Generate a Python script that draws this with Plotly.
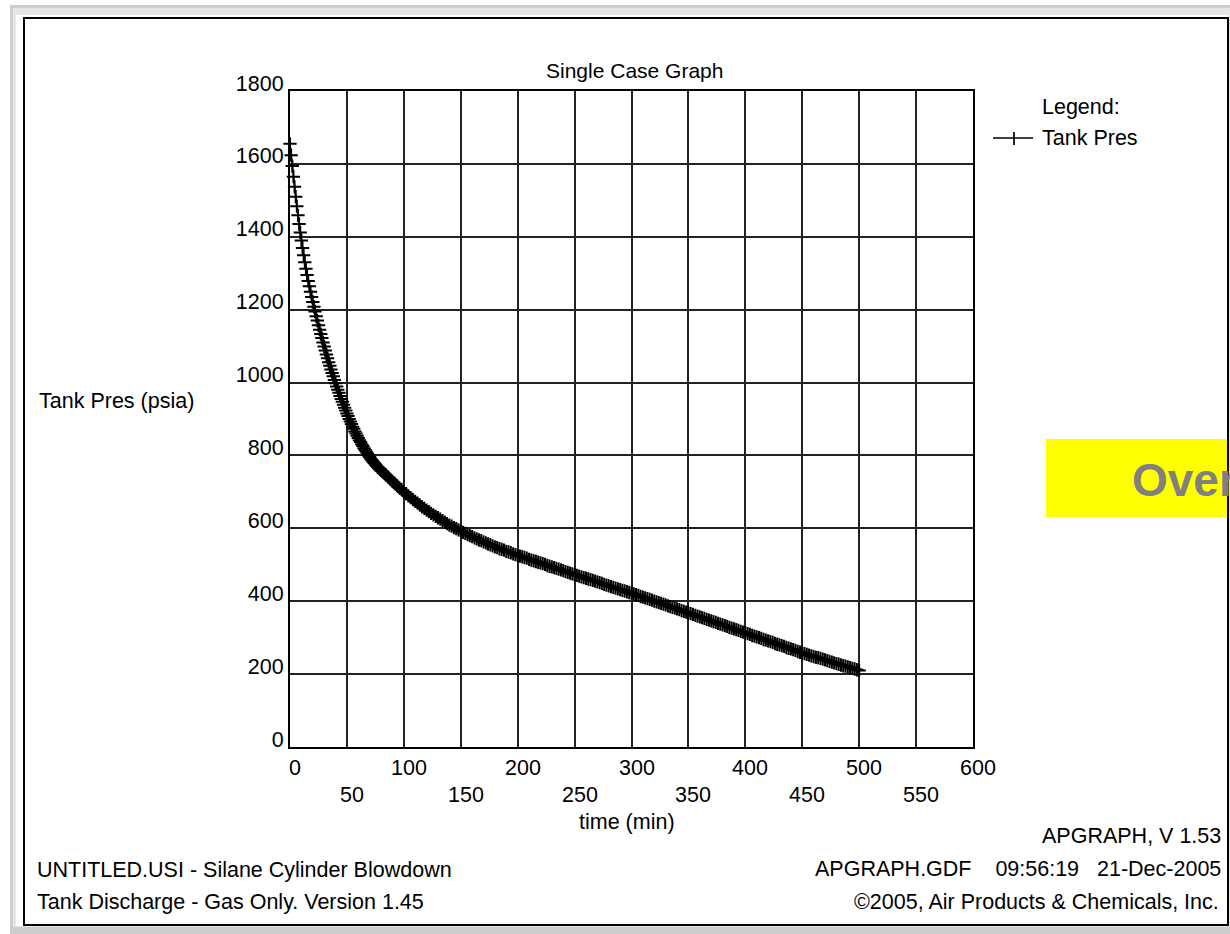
import plotly.graph_objects as go

# ---------------- data ----------------
time_min = list(range(0, 81)) + list(range(82, 501, 2))

tank_pres_psia = [
    1655, 1624, 1594, 1565, 1537, 1510, 1484, 1459, 1435, 1412,
    1390, 1369, 1349, 1330, 1312, 1295, 1279, 1264, 1249, 1235,
    1221, 1208, 1195, 1182, 1170, 1157, 1145, 1133, 1122, 1110,
    1099, 1088, 1077, 1067, 1056, 1046, 1036, 1026, 1017, 1007,
    998, 989, 980, 972, 963, 955, 947, 939, 931, 923,
    915, 908, 900, 893, 886, 879, 873, 866, 860, 854,
    848, 842, 837, 831, 826, 820, 815, 810, 805, 800,
    796, 791, 787, 783, 779, 775, 772, 768, 765, 762,
    759,
    753, 747, 741, 735, 729, 723, 717, 711, 706, 700,
    695, 689, 684, 679, 674, 669, 664, 659, 655, 650, 646, 641, 637,
    633, 629, 625, 621, 617, 613, 609, 606, 602, 599, 596, 593,
    589, 586, 583, 580, 577, 574, 571, 568, 566, 563, 560, 557, 555,
    552, 549, 547, 544, 542, 540, 537, 535, 533, 530, 528, 526,
    524, 522, 520, 518, 515, 513, 511, 509, 507, 505, 503, 501, 498,
    496, 494, 492, 490, 488, 486, 484, 481, 479, 477, 475, 473,
    471, 469, 467, 465, 463, 461, 459, 457, 455, 453, 451, 449, 446,
    444, 442, 440, 438, 436, 434, 432, 430, 428, 426, 424, 422,
    420, 418, 416, 413, 411, 409, 407, 405, 403, 400, 398, 396, 394,
    392, 390, 387, 385, 383, 381, 379, 377, 374, 372, 370, 368,
    366, 364, 361, 359, 357, 355, 353, 350, 348, 346, 344, 342, 339,
    337, 335, 333, 331, 328, 326, 324, 322, 320, 317, 315, 313,
    311, 309, 306, 304, 302, 300, 298, 295, 293, 291, 289, 287, 284,
    282, 280, 278, 276, 273, 271, 269, 267, 265, 262, 260, 258,
    256, 254, 252, 250, 248, 246, 245, 243, 241, 239, 237, 235, 233,
    231, 229, 227, 225, 223, 222, 220, 218, 216, 214, 212, 210,
]

x_tick_vals = list(range(0, 601, 50))
x_tick_text = [str(v) for v in x_tick_vals]
y_tick_vals = list(range(0, 1801, 200))
y_tick_text = [str(v) for v in y_tick_vals]

series_name = "Tank Pres"
chart_title = "Single Case Graph"
y_title = "Tank Pres (psia)"
x_title = "time (min)"
footer_left = ["UNTITLED.USI - Silane Cylinder Blowdown",
               "Tank Discharge - Gas Only. Version 1.45"]
footer_right = ["APGRAPH, V 1.53",
                "APGRAPH.GDF&nbsp;&nbsp;&nbsp;&nbsp;09:56:19&nbsp;&nbsp;&nbsp;21-Dec-2005",
                "\u00a92005, Air Products & Chemicals, Inc."]

# ---------------- layout geometry (pixels) ----------------
W, H = 1230, 934
L, R, T, B = 290, 973, 91, 747
FONT = "Liberation Sans, Arial, sans-serif"
FS = 21.5


def X(px):
    return (px - L) / (R - L)


def Y(py):
    return (B - py) / (B - T)


fig = go.Figure()
fig.add_trace(go.Scatter(
    x=time_min, y=tank_pres_psia, name=series_name, mode="lines+markers",
    line=dict(color="black", width=1.5),
    marker=dict(symbol="cross-thin", size=9.5, line=dict(color="black", width=2)),
    cliponaxis=False, showlegend=False,
))

shapes = [
    dict(type="rect", xref="paper", yref="paper", x0=X(10), x1=X(1240), y0=Y(5), y1=Y(945),
         fillcolor="#cdcdcd", line=dict(width=0), layer="below"),
    dict(type="rect", xref="paper", yref="paper", x0=X(13), x1=X(1240), y0=Y(8), y1=Y(927),
         fillcolor="#e6e6e6", line=dict(width=0), layer="below"),
    dict(type="rect", xref="paper", yref="paper", x0=X(16), x1=X(1229), y0=Y(15), y1=Y(926),
         fillcolor="white", line=dict(width=0), layer="below"),
    dict(type="rect", xref="paper", yref="paper", x0=X(1046), x1=X(1240), y0=Y(439), y1=Y(517),
         fillcolor="#ffff00", line=dict(width=0), layer="below"),
    dict(type="rect", xref="paper", yref="paper", x0=X(24), x1=X(1228), y0=Y(18), y1=Y(925),
         fillcolor="rgba(0,0,0,0)", line=dict(color="black", width=2), layer="above"),
    # legend symbol
    dict(type="line", xref="paper", yref="paper", x0=X(993), x1=X(1033), y0=Y(138), y1=Y(138),
         line=dict(color="black", width=1.7)),
    dict(type="line", xref="paper", yref="paper", x0=X(1014), x1=X(1014), y0=Y(132), y1=Y(145),
         line=dict(color="black", width=1.7)),
]

ann = []


def txt(text, px, py, xanchor="left", size=FS, color="black", **kw):
    ann.append(dict(text=text, x=X(px), y=Y(py), xref="paper", yref="paper",
                    xanchor=xanchor, yanchor="middle", showarrow=False,
                    font=dict(family=FONT, size=size, color=color), **kw))


txt(chart_title, 634.5, 70, "center", size=21)
txt(y_title, 37, 401, "left")
txt(x_title, 627, 822, "center")
txt("Legend:", 1040, 107, "left")
txt(series_name, 1040, 138, "left")
txt(footer_left[0], 35, 870, "left")
txt(footer_left[1], 35, 902, "left")
txt(footer_right[0], 1223, 836, "right")
txt(footer_right[1], 1223, 869, "right")
txt(footer_right[2], 1221, 902, "right")
txt("<b>Over</b>", 1130, 480, "left", size=46, color="#808080")

for i, (v, t) in enumerate(zip(x_tick_vals, x_tick_text)):
    row_y = 768 if i % 2 == 0 else 795
    ann.append(dict(text=t, x=v, xref="x", y=Y(row_y), yref="paper",
                    xanchor="center", yanchor="middle", xshift=5, showarrow=False,
                    font=dict(family=FONT, size=FS, color="black")))

fig.update_layout(
    width=W, height=H,
    margin=dict(l=L, r=W - R, t=T, b=H - B, pad=0),
    paper_bgcolor="white", plot_bgcolor="rgba(0,0,0,0)",
    font=dict(family=FONT, size=FS, color="black"),
    shapes=shapes, annotations=ann, showlegend=False,
    xaxis=dict(range=[0, 600], tickvals=x_tick_vals, showticklabels=False,
               showgrid=True, gridcolor="#222222", gridwidth=1.6,
               showline=True, linecolor="black", linewidth=2, mirror=True,
               zeroline=False, ticks=""),
    yaxis=dict(range=[0, 1800], tickvals=y_tick_vals, ticktext=y_tick_text,
               showgrid=True, gridcolor="#222222", gridwidth=1.6,
               showline=True, linecolor="black", linewidth=2, mirror=True,
               zeroline=False, ticks="", ticklabelshift=-8,
               tickfont=dict(family=FONT, size=FS, color="black")),
)

fig.write_html(
    "out.html",
    config={"displayModeBar": False},
    post_script="document.body.style.margin='0';document.body.style.padding='0';"
                "document.body.style.overflow='hidden';",
)
